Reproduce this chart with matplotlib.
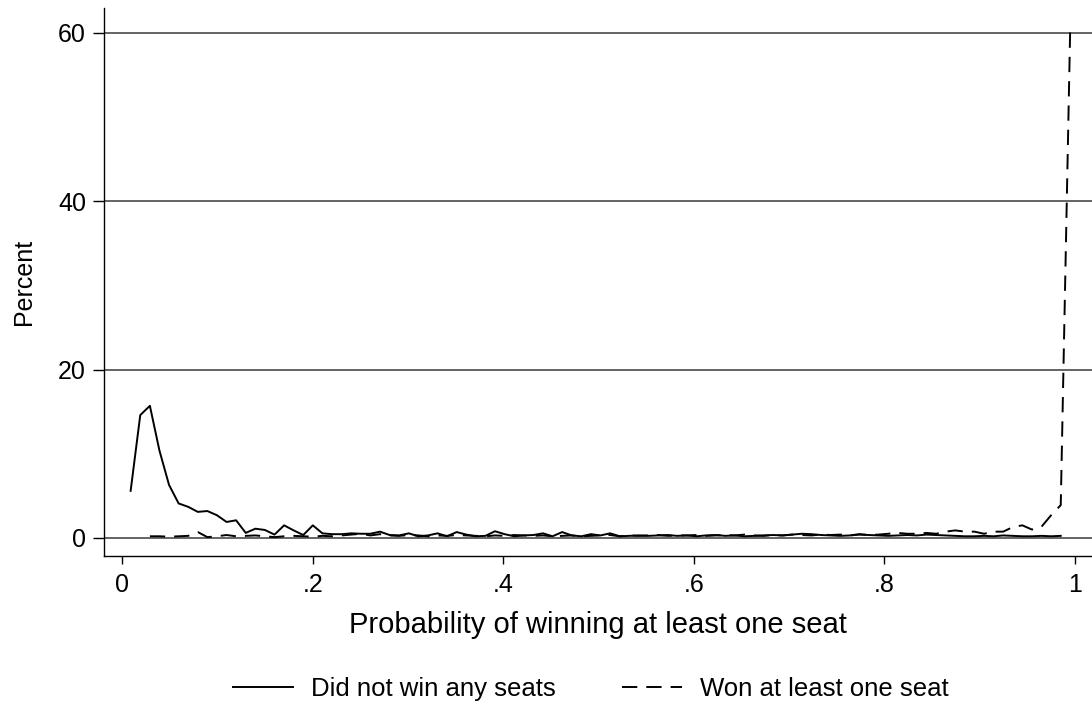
"""Share of parties by probability of winning at least one seat"""
import matplotlib
matplotlib.use("Agg")
import matplotlib.pyplot as plt

plt.rcParams["font.family"] = ["Liberation Sans", "DejaVu Sans"]
plt.rcParams["lines.scale_dashes"] = False

# bin positions (probability)
prob_bins = [
    0.0088, 0.0189, 0.0290, 0.0390, 0.0491, 0.0592, 0.0692, 0.0793, 0.0893, 0.0994,
    0.1095, 0.1195, 0.1296, 0.1397, 0.1497, 0.1598, 0.1699, 0.1799, 0.1900, 0.2000,
    0.2101, 0.2202, 0.2302, 0.2403, 0.2504, 0.2604, 0.2705, 0.2806, 0.2906, 0.3007,
    0.3107, 0.3208, 0.3309, 0.3409, 0.3510, 0.3611, 0.3711, 0.3812, 0.3912, 0.4013,
    0.4114, 0.4214, 0.4315, 0.4416, 0.4516, 0.4617, 0.4718, 0.4818, 0.4919, 0.5019,
    0.5120, 0.5221, 0.5321, 0.5422, 0.5523, 0.5623, 0.5724, 0.5825, 0.5925, 0.6026,
    0.6126, 0.6227, 0.6328, 0.6428, 0.6529, 0.6630, 0.6730, 0.6831, 0.6931, 0.7032,
    0.7133, 0.7233, 0.7334, 0.7435, 0.7535, 0.7636, 0.7737, 0.7837, 0.7938, 0.8038,
    0.8139, 0.8240, 0.8340, 0.8441, 0.8542, 0.8642, 0.8743, 0.8844, 0.8944, 0.9045,
    0.9145, 0.9246, 0.9347, 0.9447, 0.9548, 0.9649, 0.9749, 0.9850, 0.9950,
]

# percent, bins 1..98
no_seat_pct = [
    5.6, 14.6, 15.7, 10.4, 6.3, 4.1, 3.7, 3.1, 3.2, 2.7,
    1.9, 2.1, 0.6, 1.1, 0.95, 0.4, 1.5, 0.9, 0.35, 1.5,
    0.55, 0.45, 0.45, 0.55, 0.5, 0.5, 0.75, 0.35, 0.3, 0.55,
    0.2, 0.3, 0.55, 0.2, 0.7, 0.4, 0.2, 0.25, 0.8, 0.45,
    0.2, 0.3, 0.35, 0.55, 0.2, 0.7, 0.3, 0.2, 0.45, 0.3,
    0.55, 0.2, 0.25, 0.3, 0.25, 0.3, 0.35, 0.25, 0.3, 0.2,
    0.3, 0.35, 0.25, 0.3, 0.2, 0.25, 0.3, 0.35, 0.3, 0.4,
    0.5, 0.45, 0.35, 0.3, 0.25, 0.3, 0.4, 0.35, 0.3, 0.25,
    0.3, 0.35, 0.3, 0.4, 0.35, 0.3, 0.25, 0.2, 0.2, 0.25,
    0.2, 0.3, 0.25, 0.2, 0.2, 0.25, 0.2, 0.25,
]

# percent, bins 3..99
won_seat_pct = [
    0.2, 0.2, 0.15, 0.2, 0.25, 0.7, 0.1, 0.2, 0.35, 0.2,
    0.25, 0.3, 0.2, 0.1, 0.2, 0.25, 0.2, 0.15, 0.25, 0.2,
    0.3, 0.4, 0.5, 0.3, 0.45, 0.3, 0.25, 0.35, 0.3, 0.2,
    0.3, 0.25, 0.35, 0.3, 0.25, 0.2, 0.3, 0.25, 0.35, 0.3,
    0.25, 0.3, 0.2, 0.25, 0.3, 0.2, 0.25, 0.3, 0.35, 0.2,
    0.3, 0.25, 0.3, 0.35, 0.25, 0.3, 0.3, 0.35, 0.25, 0.3,
    0.35, 0.3, 0.4, 0.3, 0.25, 0.35, 0.3, 0.4, 0.35, 0.3,
    0.4, 0.35, 0.4, 0.3, 0.45, 0.35, 0.4, 0.5, 0.6, 0.5,
    0.5, 0.6, 0.5, 0.75, 0.9, 0.75, 0.75, 0.5, 0.75, 0.75,
    1.3, 1.5, 1.0, 1.35, 2.7, 3.9, 61.0,
]

x_ticks = [0, 0.2, 0.4, 0.6, 0.8, 1.0]
x_tick_labels = ["0", ".2", ".4", ".6", ".8", "1"]
y_ticks = [0, 20, 40, 60]

fig = plt.figure(figsize=(10.92, 7.06), dpi=100)
ax = fig.add_axes([0.0952, 0.2125, 0.9048, 0.7762])

for y in y_ticks:
    ax.axhline(y, color="#3a3a3a", lw=1.1, zorder=1)

ax.plot(prob_bins[:98], no_seat_pct, color="black", lw=1.4,
        label="Did not win any seats", zorder=3)
ax.plot(prob_bins[2:], won_seat_pct, color="black", lw=1.4,
        dashes=(11, 6.5), label="Won at least one seat", zorder=3)

ax.set_xlim(-0.0192, 1.0178)
ax.set_ylim(-2.14, 62.97)
ax.set_xticks(x_ticks)
ax.set_xticklabels(x_tick_labels)
ax.set_yticks(y_ticks)
ax.tick_params(labelsize=18, width=1, color="black")
ax.tick_params(axis="x", length=6, pad=6)
ax.tick_params(axis="y", length=8, pad=5)

for side in ["top", "right"]:
    ax.spines[side].set_visible(False)
for side in ["left", "bottom"]:
    ax.spines[side].set_linewidth(1)

ax.set_xlabel("Probability of winning at least one seat", fontsize=21, labelpad=10)
ax.set_ylabel("Percent", fontsize=18, labelpad=16)

fig.legend(loc="center", bbox_to_anchor=(0.541, 0.024), ncol=2, frameon=False,
           fontsize=18.5, handlelength=2.33, columnspacing=2.6, handletextpad=0.68)

fig.savefig("out.png", dpi=100)
